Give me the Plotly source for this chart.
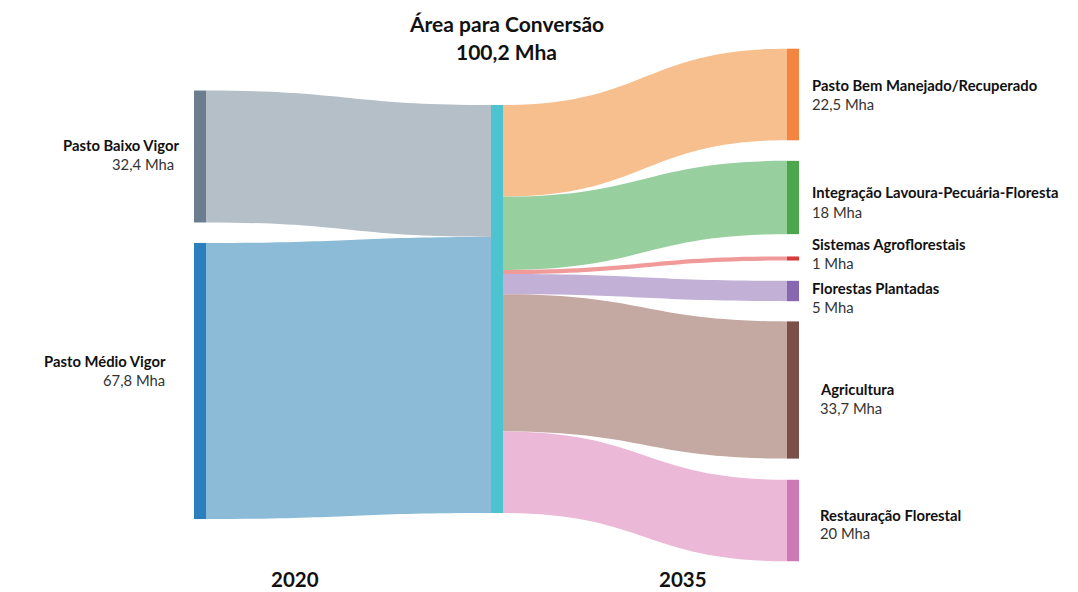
import plotly.graph_objects as go

# ---------------- data ----------------
origem_labels = ["Pasto Baixo Vigor", "Pasto Médio Vigor"]
origem_values = [32.4, 67.8]

centro_label = "Área para Conversão"
centro_value = 100.2

destino_labels = [
    "Pasto Bem Manejado/Recuperado",
    "Integração Lavoura-Pecuária-Floresta",
    "Sistemas Agroflorestais",
    "Florestas Plantadas",
    "Agricultura",
    "Restauração Florestal",
]
destino_values = [22.5, 18, 1, 5, 33.7, 20]

year_labels = ["2020", "2035"]
unit = "Mha"

# ---------------- styles ----------------
OFF = 8                      # page body margin of the html output
W, H = 1078 - OFF, 592 - OFF
FONT = "Lato"
LBL = 14.8

origem_node_colors = ["#6b7d8f", "#2a7fbd"]
origem_link_colors = ["#b4bfc7", "#8bbbd6"]
centro_color = "#4cc3cf"
destino_node_colors = ["#f4843f", "#4ca64c", "#d93a3a", "#8767b0", "#7b4f47", "#cd79b6"]
destino_link_colors = ["#f8bf8e", "#97d09e", "#f09a9a", "#c2b0d6", "#c4a8a2", "#ebb9d7"]

# node centre positions (layout, screen pixels)
origem_x_px = 200
centro_x_px = 497
destino_x_px = 793
origem_y_px = [156.5, 381]
centro_y_px = 309
destino_y_px = [94.5, 197.5, 258.5, 291, 390, 520.5]

dom_top, dom_bot = 48 - OFF, 561 - OFF
dom_h = dom_bot - dom_top


def fmt(v):
    return f"{v:g}".replace(".", ",") + " " + unit


def nx(px):
    return (px - OFF) / W


def ny(py):
    return (py - OFF - dom_top) / dom_h


# ---------------- build sankey ----------------
n_o = len(origem_labels)
n_d = len(destino_labels)
centro_idx = n_o

node_colors = origem_node_colors + [centro_color] + destino_node_colors
node_x = [nx(origem_x_px)] * n_o + [nx(centro_x_px)] + [nx(destino_x_px)] * n_d
node_y = [ny(y) for y in origem_y_px] + [ny(centro_y_px)] + [ny(y) for y in destino_y_px]

src, tgt, val, lcol = [], [], [], []
for i, v in enumerate(origem_values):
    src.append(i); tgt.append(centro_idx); val.append(v); lcol.append(origem_link_colors[i])
for j, v in enumerate(destino_values):
    src.append(centro_idx); tgt.append(n_o + 1 + j); val.append(v); lcol.append(destino_link_colors[j])

all_names = origem_labels + [centro_label] + destino_labels

fig = go.Figure(go.Sankey(
    arrangement="fixed",
    domain=dict(x=[0, 1], y=[1 - dom_bot / H, 1 - dom_top / H]),
    node=dict(
        label=[""] * len(all_names),
        customdata=all_names,
        hovertemplate="%{customdata}: %{value} Mha<extra></extra>",
        color=node_colors,
        x=node_x,
        y=node_y,
        pad=21,
        thickness=12,
        line=dict(width=0),
    ),
    link=dict(source=src, target=tgt, value=val, color=lcol),
))

annotations = []


def add_text(text, x_px, y_px, size, bold=False, xanchor="left"):
    annotations.append(dict(
        text=f"<b>{text}</b>" if bold else text,
        x=(x_px - OFF) / W, y=1 - (y_px - OFF) / H, xref="paper", yref="paper",
        xanchor=xanchor, yanchor="middle", showarrow=False,
        font=dict(family=FONT, size=size, color="#111111" if bold else "#333333"),
    ))


# title
add_text(centro_label, 506, 23, 21, bold=True, xanchor="center")
add_text(fmt(centro_value), 506, 52, 21, bold=True, xanchor="center")

# left labels (name right edge, value right edge)
left_label_pos = [(182, 145, 176, 164), (168, 361, 167, 380)]
for name, v, (xn, y1, xv, y2) in zip(origem_labels, origem_values, left_label_pos):
    add_text(name, xn, y1, LBL, bold=True, xanchor="right")
    add_text(fmt(v), xv, y2, LBL, xanchor="right")

# right labels
right_label_pos = [(810, 85, 104), (810, 192, 212), (810, 244, 263),
                   (810, 288, 307), (818, 389, 408), (818, 515, 533)]
for name, v, (x, y1, y2) in zip(destino_labels, destino_values, right_label_pos):
    add_text(name, x, y1, LBL, bold=True)
    add_text(fmt(v), x, y2, LBL)

# years
add_text(year_labels[0], 295, 579, 20.5, bold=True, xanchor="center")
add_text(year_labels[1], 683, 579, 20.5, bold=True, xanchor="center")

fig.update_layout(
    width=W, height=H,
    margin=dict(l=0, r=0, t=0, b=0),
    paper_bgcolor="white",
    plot_bgcolor="white",
    font=dict(family=FONT),
    annotations=annotations,
)

fig.write_html("out.html")
